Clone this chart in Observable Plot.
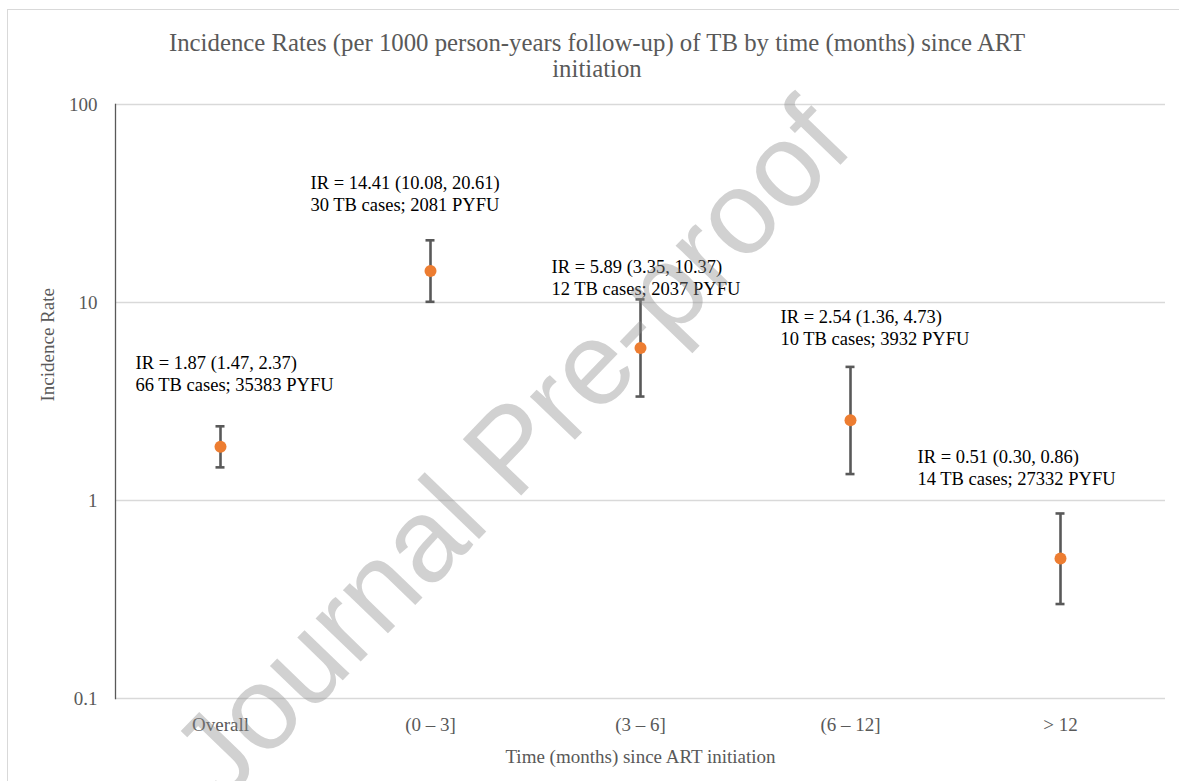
<!DOCTYPE html>
<html>
<head>
<meta charset="utf-8">
<script src="https://cdn.jsdelivr.net/npm/d3@7"></script>
<script src="https://cdn.jsdelivr.net/npm/@observablehq/plot@0.6"></script>
<style>
  html, body { margin: 0; padding: 0; background: #fff; width: 1179px; height: 781px; overflow: hidden; }
  #wrap { position: relative; width: 1179px; height: 781px; }
  #border { position: absolute; left: 7px; top: 9px; width: 1300px; height: 900px; border-left: 1.5px solid #d9d9d9; border-top: 1.5px solid #d9d9d9; }
  #title { position: absolute; left: 0; top: 30px; width: 1194px; text-align: center; font-family: "Liberation Serif", "Times New Roman", serif; font-size: 24.8px; line-height: 25.5px; color: #595959; }
  #chart { position: absolute; left: 0; top: 90px; }
  #watermark { position: absolute; left: 510px; top: 448px; transform: translate(-50%, -50%) rotate(-46deg); white-space: nowrap; font-family: "Liberation Sans", Arial, sans-serif; font-size: 118px; color: rgba(140,140,140,0.4); pointer-events: none; line-height: 1; }
</style>
</head>
<body>
<div id="wrap">
  <div id="border"></div>
  <div id="title">Incidence Rates (per 1000 person-years follow-up) of TB by time (months) since ART<br>initiation</div>
  <div id="chart"></div>
  <div id="watermark">Journal Pre-proof</div>
</div>
<script>
const categories = ["Overall", "(0 – 3]", "(3 – 6]", "(6 – 12]", "> 12"];
const rates = [1.87, 14.41, 5.89, 2.54, 0.51];
const lower = [1.47, 10.08, 3.35, 1.36, 0.30];
const upper = [2.37, 20.61, 10.37, 4.73, 0.86];
const cases = [66, 30, 12, 10, 14];
const pyfu = [35383, 2081, 2037, 3932, 27332];
const yTicks = [0.1, 1, 10, 100];
// annotation nudges (dx from category centre, dy from upper CI), pixels
const labelNudge = [[-85, -53], [-120, -47], [-89, -22], [-70, -40], [-143, -47]];

const rows = categories.map((c, i) => ({
  cat: c, rate: rates[i], lo: lower[i], hi: upper[i],
  label: `IR = ${rates[i].toFixed(2)} (${lower[i].toFixed(2)}, ${upper[i].toFixed(2)})\n${cases[i]} TB cases; ${pyfu[i]} PYFU`
}));

const barColor = "#595959";
const capInset = 100.5;

const labelMarks = rows.map((d, i) => Plot.text([d], {
  x: "cat", y: "hi", text: "label",
  textAnchor: "start", lineAnchor: "middle", lineHeight: 1.19,
  dx: labelNudge[i][0], dy: labelNudge[i][1],
  fill: "#000", fontSize: 18.5
}));

const chart = Plot.plot({
  width: 1179,
  height: 691,
  marginTop: 14,
  marginBottom: 83,
  marginLeft: 115,
  marginRight: 14,
  style: { fontFamily: "'Liberation Serif', 'Times New Roman', serif", fontSize: "19px", color: "#595959", background: "transparent", overflow: "visible" },
  x: { type: "band", domain: categories, padding: 0, label: null, tickSize: 0, tickPadding: 19 },
  y: { type: "log", domain: [0.1, 100], ticks: yTicks, tickFormat: d => String(d), tickSize: 0, tickPadding: 18, label: null },
  marks: [
    Plot.ruleY(yTicks, { stroke: "#d9d9d9", strokeWidth: 1.3 }),
    Plot.frame({ anchor: "left", stroke: "#595959", strokeWidth: 1.3 }),
    Plot.ruleX(rows, { x: "cat", y1: "lo", y2: "hi", stroke: barColor, strokeWidth: 2.6 }),
    Plot.tickY(rows, { x: "cat", y: "lo", stroke: barColor, strokeWidth: 2.6, insetLeft: capInset, insetRight: capInset }),
    Plot.tickY(rows, { x: "cat", y: "hi", stroke: barColor, strokeWidth: 2.6, insetLeft: capInset, insetRight: capInset }),
    Plot.dot(rows, { x: "cat", y: "rate", r: 6, fill: "#ED7D31" }),
    ...labelMarks,
    Plot.text(["Incidence Rate"], { text: d => d, frameAnchor: "left", rotate: -90, dx: -68, fill: "#595959", fontSize: 19 }),
    Plot.text(["Time (months) since ART initiation"], { text: d => d, frameAnchor: "bottom", dy: 64, fill: "#595959", fontSize: 19 })
  ]
});
document.getElementById("chart").appendChild(chart);
</script>
</body>
</html>
